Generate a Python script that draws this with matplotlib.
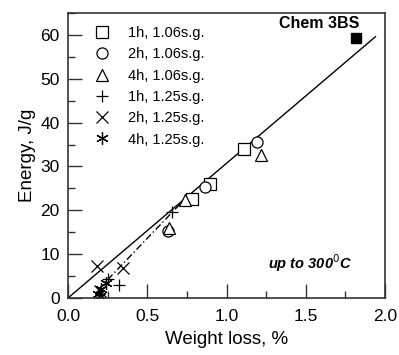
import matplotlib
matplotlib.use("Agg")
import matplotlib.pyplot as plt
from matplotlib.ticker import MultipleLocator

plt.rcParams['font.family'] = ['Liberation Sans', 'DejaVu Sans']

# data
sq_106_1h_x = [0.78, 0.896, 1.11]
sq_106_1h_y = [22.6, 26.0, 34.0]
ci_106_2h_x = [0.63, 0.864, 1.19]
ci_106_2h_y = [15.3, 25.3, 35.6]
tr_106_4h_x = [0.64, 0.74, 1.22]
tr_106_4h_y = [16.0, 22.4, 32.6]
pl_125_1h_x = [0.656, 0.32, 0.25]
pl_125_1h_y = [19.6, 3.0, 4.3]
x_125_2h_x = [0.185, 0.35, 0.20]
x_125_2h_y = [7.3, 6.8, 1.5]
st_125_4h_x = [0.19, 0.21, 0.24, 0.20]
st_125_4h_y = [1.0, 2.0, 3.5, 0.5]
chem_x = [1.82]
chem_y = [59.4]
fit_all_x = [0.0, 1.94]
fit_all_y = [0.0, 59.6]
fit_125_x = [0.19, 0.77]
fit_125_y = [1.9, 23.8]

labels = ["1h, 1.06s.g.", "2h, 1.06s.g.", "4h, 1.06s.g.",
          "1h, 1.25s.g.", "2h, 1.25s.g.", "4h, 1.25s.g."]

fig = plt.figure(figsize=(3.99, 3.55), dpi=100)
ax = fig.add_axes([68/399, 1 - 298/355, (385-68)/399, (298-13)/355])

ax.plot(fit_all_x, fit_all_y, color='black', lw=1.0)
ax.plot(fit_125_x, fit_125_y, color='black', lw=1.0, ls=(0, (5, 2, 1, 2)))

ms = 8
kw = dict(ls='none', color='black', mfc='white', mew=0.9, ms=ms)
h1, = ax.plot(sq_106_1h_x, sq_106_1h_y, marker='s', **kw)
h2, = ax.plot(ci_106_2h_x, ci_106_2h_y, marker='o', **kw)
h3, = ax.plot(tr_106_4h_x, tr_106_4h_y, marker='^', **kw)
h4, = ax.plot(pl_125_1h_x, pl_125_1h_y, marker='+', ls='none', color='black', mew=0.9, ms=9)
h5, = ax.plot(x_125_2h_x, x_125_2h_y, marker='x', ls='none', color='black', mew=0.9, ms=9)
h6, = ax.plot(st_125_4h_x, st_125_4h_y, marker=(6, 2, 0), ls='none', color='black', mew=0.9, ms=9)
ax.plot(chem_x, chem_y, marker='s', ls='none', color='black', ms=7)

ax.text(1.84, 62.5, "Chem 3BS", fontsize=11.5, fontweight='bold', ha='right', va='center')
ax.text(1.79, 8.0, r"up to 300$^0$C", fontsize=10.5, fontweight='bold', style='italic',
        ha='right', va='center')

leg = ax.legend([h1, h2, h3, h4, h5, h6], labels, loc='upper left',
                bbox_to_anchor=(0.025, 0.995), frameon=False, fontsize=10.5,
                handletextpad=0.8, labelspacing=0.5, borderaxespad=0.4, numpoints=1)

ax.set_xlim(0, 2.0)
ax.set_ylim(0, 65)
ax.xaxis.set_major_locator(MultipleLocator(0.5))
ax.xaxis.set_minor_locator(MultipleLocator(0.25))
ax.yaxis.set_major_locator(MultipleLocator(10))
ax.yaxis.set_minor_locator(MultipleLocator(5))
ax.xaxis.set_major_formatter(plt.FuncFormatter(lambda v, p: f"{v:.1f}"))
ax.tick_params(which='both', direction='in', top=False, right=False, labelsize=12.5, color='#333333')
ax.tick_params(which='major', length=10, width=1)
ax.tick_params(which='minor', length=5, width=1)
ax.tick_params(axis='x', pad=8)
ax.tick_params(axis='y', pad=6)
for s in ax.spines.values():
    s.set_linewidth(1.2)
    s.set_color('#333333')

ax.set_xlabel("Weight loss, %", fontsize=13.5, labelpad=5)
ax.set_ylabel("Energy, J/g", fontsize=13.5, labelpad=3)

fig.savefig("out.png", dpi=100)
